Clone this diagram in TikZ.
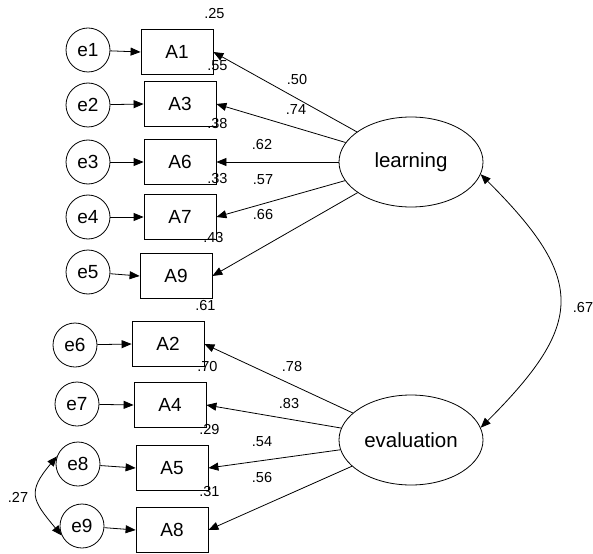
\documentclass[tikz,border=0pt]{standalone}
\usepackage{fontspec}
\setmainfont{Liberation Sans}
\usetikzlibrary{arrows.meta, shapes.geometric}

\begin{document}
\begin{tikzpicture}[x=1pt, y=1pt,
    err/.style={draw, circle, minimum size=44pt, inner sep=0pt, line width=0.8pt, font=\fontsize{19}{21}\selectfont},
    item/.style={draw, rectangle, minimum width=72pt, minimum height=45pt, inner sep=0pt, line width=0.8pt, font=\fontsize{19}{21}\selectfont},
    factor/.style={draw, ellipse, minimum width=144pt, minimum height=90pt, inner sep=0pt, line width=0.8pt, font=\fontsize{20.5}{23}\selectfont},
    wt/.style={inner sep=0pt, font=\fontsize{14.5}{16}\selectfont},
    link/.style={-{Triangle[length=10pt, width=8pt]}, line width=0.8pt},
    cov/.style={{Triangle[length=10pt, width=8pt]}-{Triangle[length=10pt, width=8pt]}, line width=0.8pt}]
                \useasboundingbox (0,0) rectangle (593,-553);
                % Latent factors
                \node[factor] (learning) at (411,-162) {learning};
                \node[factor] (evaluation) at (411,-440) {evaluation};
                % Items of the first factor
                \node[item] (A1) at (177,-52) {A1};
                \node[item] (A3) at (180,-104) {A3};
                \node[item] (A6) at (180,-162) {A6};
                \node[item] (A7) at (180,-217) {A7};
                \node[item] (A9) at (176,-276) {A9};
                % Items of the second factor
                \node[item] (A2) at (168,-344) {A2};
                \node[item] (A4) at (170,-405) {A4};
                \node[item] (A5) at (172,-468) {A5};
                \node[item] (A8) at (172,-530) {A8};
                % Error terms
                \node[err] (e1) at (88,-50) {e1};
                \node[err] (e2) at (88,-105) {e2};
                \node[err] (e3) at (88,-162) {e3};
                \node[err] (e4) at (88,-217) {e4};
                \node[err] (e5) at (88,-272) {e5};
                \node[err] (e6) at (75,-345) {e6};
                \node[err] (e7) at (77,-404) {e7};
                \node[err] (e8) at (78,-464) {e8};
                \node[err] (e9) at (82,-526) {e9};
                % Errors into items
                \draw[link] (e1) -- (A1.west);
                \draw[link] (e2) -- (A3.west);
                \draw[link] (e3) -- (A6.west);
                \draw[link] (e4) -- (A7.west);
                \draw[link] (e5) -- (A9.west);
                \draw[link] (e6) -- (A2.west);
                \draw[link] (e7) -- (A4.west);
                \draw[link] (e8) -- (A5.west);
                \draw[link] (e9) -- (A8.west);
                % Loadings
                \draw[link] (learning) -- (A1.east);
                \draw[link] (learning) -- (A3.east);
                \draw[link] (learning) -- (A6.east);
                \draw[link] (learning) -- (A7.east);
                \draw[link] (learning) -- (A9.east);
                \draw[link] (evaluation) -- (A2.east);
                \draw[link] (evaluation) -- (A4.east);
                \draw[link] (evaluation) -- (A5.east);
                \draw[link] (evaluation) -- (A8.east);
                % Covariances
                \draw[cov] (learning.-10) to[out=-45, in=45, looseness=1.5] (evaluation.10);
                \draw[cov] (e8.160) to[out=230, in=130, looseness=1.5] (e9.205);
                \node[wt] (c1) at (583,-308) {.67};
                \node[wt] (c2) at (18,-497) {.27};
                % Loading values
                \node[wt] (w1) at (297,-80) {.50};
                \node[wt] (w3) at (296,-110) {.74};
                \node[wt] (w6) at (262,-145) {.62};
                \node[wt] (w7) at (263,-180) {.57};
                \node[wt] (w9) at (263,-215) {.66};
                \node[wt] (w2) at (292,-367) {.78};
                \node[wt] (w4) at (289,-404) {.83};
                \node[wt] (w5) at (262,-442) {.54};
                \node[wt] (w8) at (262,-478) {.56};
                % Squared multiple correlations
                \node[wt] (r1) at ([shift={(1,16)}]A1.north east) {.25};
                \node[wt] (r3) at ([shift={(1,16)}]A3.north east) {.55};
                \node[wt] (r6) at ([shift={(1,16)}]A6.north east) {.38};
                \node[wt] (r7) at ([shift={(1,16)}]A7.north east) {.33};
                \node[wt] (r9) at ([shift={(1,16)}]A9.north east) {.43};
                \node[wt] (r2) at ([shift={(1,16)}]A2.north east) {.61};
                \node[wt] (r4) at ([shift={(1,16)}]A4.north east) {.70};
                \node[wt] (r5) at ([shift={(1,16)}]A5.north east) {.29};
                \node[wt] (r8) at ([shift={(1,16)}]A8.north east) {.31};
\end{tikzpicture}
\end{document}
